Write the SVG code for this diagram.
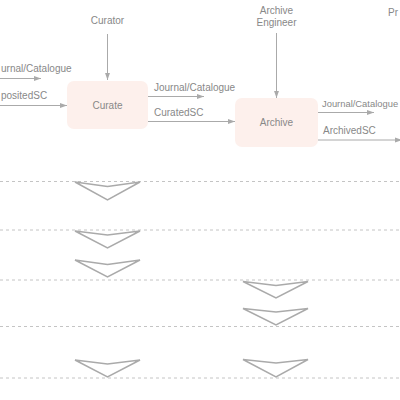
<svg xmlns="http://www.w3.org/2000/svg" width="400" height="400" viewBox="0 0 400 400">
<defs>
<marker id="ah" viewBox="0 0 10 10" refX="10" refY="5" markerWidth="7" markerHeight="7" markerUnits="userSpaceOnUse" orient="auto">
<path d="M0,1.5 L10,5 L0,8.5 Z" fill="#aaaaaa"/>
</marker>
</defs>
<style>
.t{font-family:"Liberation Sans",Arial,sans-serif;font-size:10px;fill:#888888}
.n{font-family:"Liberation Sans",Arial,sans-serif;font-size:10px;fill:#888888;text-anchor:middle}
.box{fill:#fdf0ec;stroke:none}
.c{stroke:#aaaaaa;stroke-width:1;fill:none;marker-end:url(#ah)}
.d{stroke:#c4c4c4;stroke-width:1;stroke-dasharray:3 3;fill:none}
.v{fill:#ffffff;stroke:#aaaaaa;stroke-width:1.5;stroke-linejoin:miter}
</style>
<rect width="400" height="400" fill="#ffffff"/>
<g id="lanes">
<line class="d" x1="0" y1="181.5" x2="400" y2="181.5"/>
<line class="d" x1="0" y1="230" x2="400" y2="230"/>
<line class="d" x1="0" y1="280" x2="400" y2="280"/>
<line class="d" x1="0" y1="326.5" x2="400" y2="326.5"/>
<line class="d" x1="0" y1="378" x2="400" y2="378"/>
</g>
<g id="chevrons">
<polygon class="v" points="75,182 107.5,186.5 140,182 107.5,200"/>
<polygon class="v" points="75,231 107.5,235 140,231 107.5,248"/>
<polygon class="v" points="75,260 107.5,264.5 140,260 107.5,277"/>
<polygon class="v" points="75,360 107.5,364 140,360 107.5,377"/>
<polygon class="v" points="243,281.5 276,285.5 308,281.5 276,298"/>
<polygon class="v" points="243,308.5 276,312 308,308.5 276,325"/>
<polygon class="v" points="243,359.5 276,363 308,359.5 276,377"/>
</g>
<g id="connectors">
<line class="c" x1="0" y1="78.5" x2="41" y2="78.5"/>
<line class="c" x1="0" y1="105.5" x2="67" y2="105.5"/>
<line class="c" x1="107.5" y1="34" x2="107.5" y2="80"/>
<line class="c" x1="148" y1="96.5" x2="204" y2="96.5"/>
<line class="c" x1="148" y1="121.5" x2="235" y2="121.5"/>
<line class="c" x1="276.5" y1="33" x2="276.5" y2="98"/>
<line class="c" x1="318" y1="112.5" x2="374" y2="112.5"/>
<line class="c" x1="318" y1="140" x2="402" y2="140"/>
<text class="t" x="1" y="71.5">urnal/Catalogue</text>
<text class="t" x="1" y="98.5">positedSC</text>
<text class="t" x="154" y="90.5">Journal/Catalogue</text>
<text class="t" x="154" y="115.5">CuratedSC</text>
<text class="t" x="322" y="106.5" style="font-size:9.4px">Journal/Catalogue</text>
<text class="t" x="323" y="133.5">ArchivedSC</text>
</g>
<g id="curator">
<text class="n" x="107.5" y="23.5">Curator</text>
</g>
<g id="archive-engineer">
<text class="n" x="276.5" y="13.5">Archive</text>
<text class="n" x="276.5" y="25.5">Engineer</text>
</g>
<g id="pr">
<text class="t" x="388" y="15.5">Pr</text>
</g>
<g id="curate">
<rect class="box" x="67" y="81" width="81" height="48" rx="7"/>
<text class="n" x="107.5" y="108.5">Curate</text>
</g>
<g id="archive">
<rect class="box" x="235" y="98" width="83" height="49" rx="7"/>
<text class="n" x="276.5" y="126">Archive</text>
</g>
</svg>
